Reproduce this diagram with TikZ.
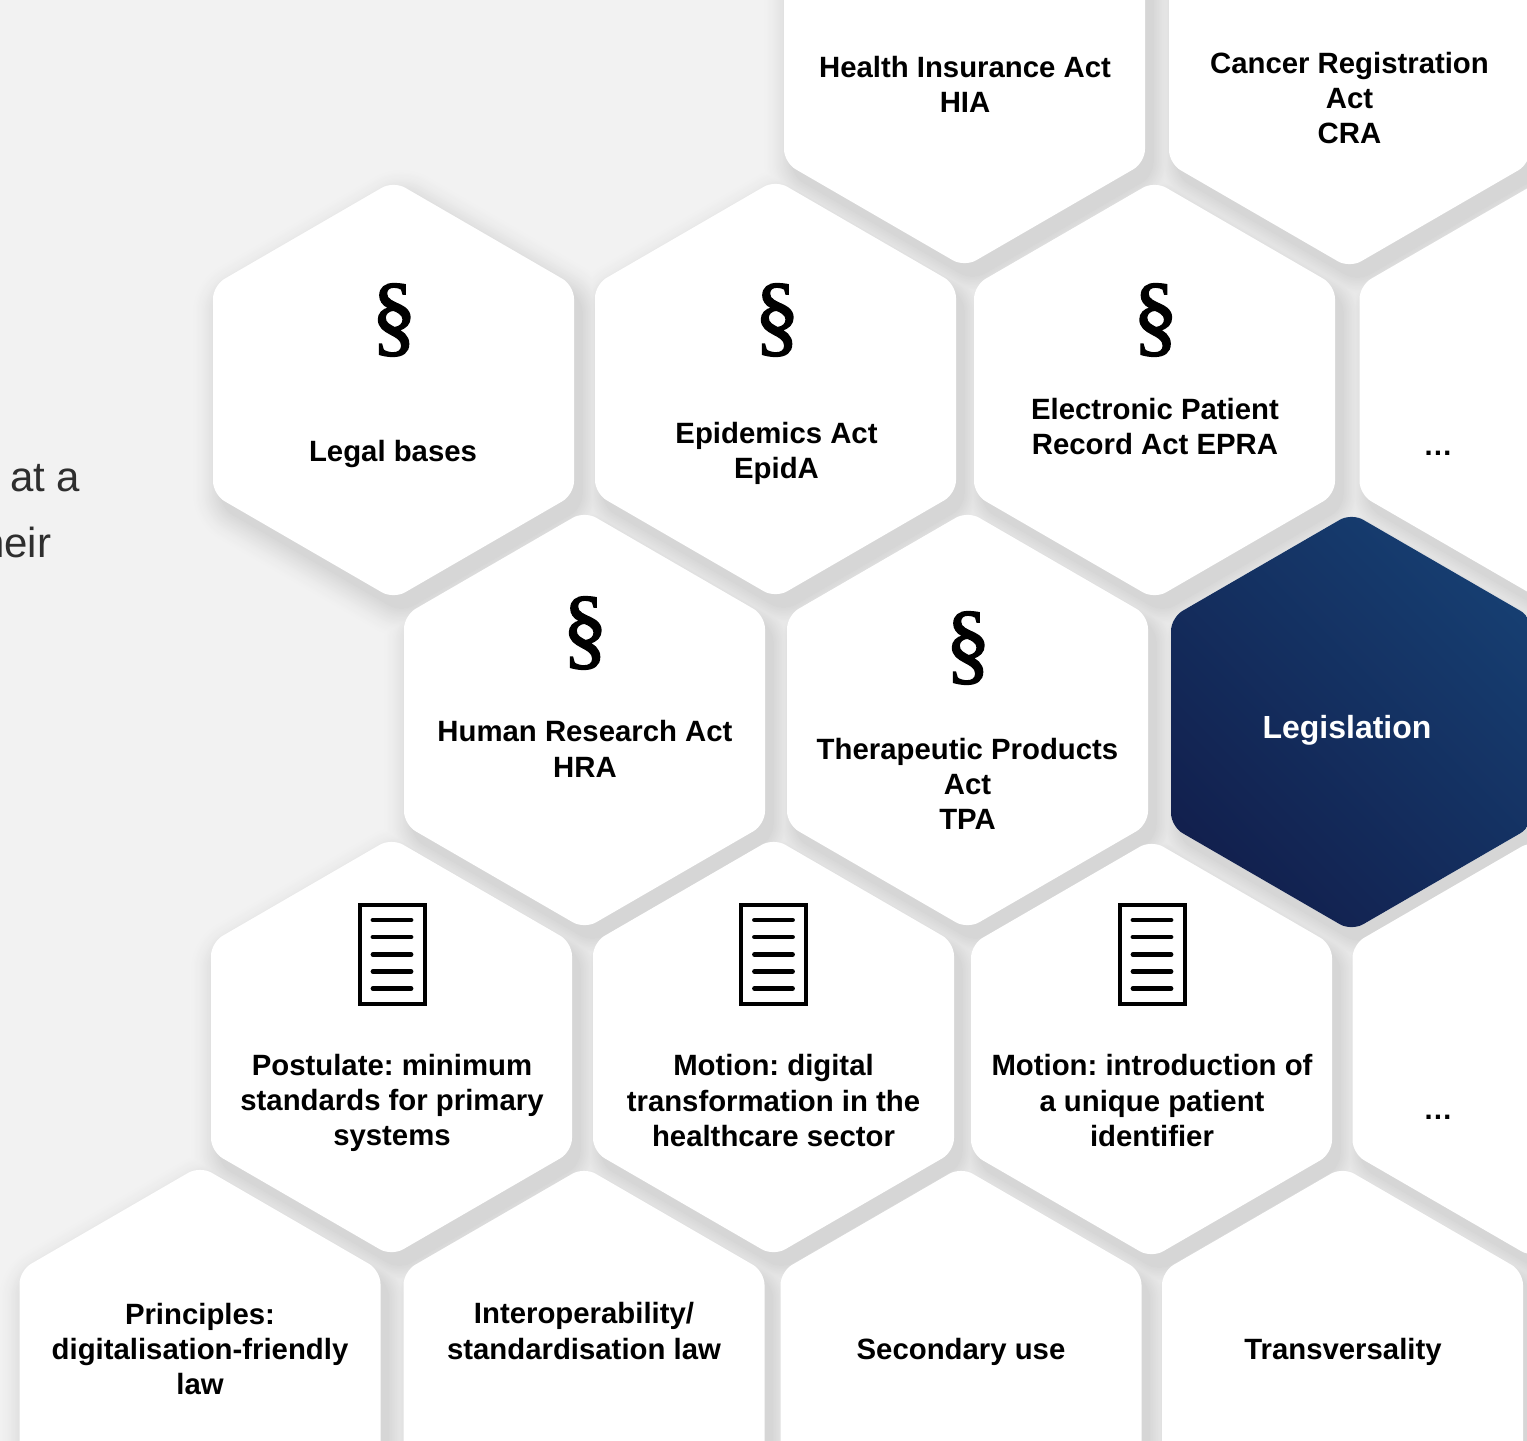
\documentclass[tikz,border=0pt]{standalone}
\usepackage{fontspec}
\setmainfont{Liberation Sans}
\newfontfamily\serifsym{Liberation Serif}[FakeBold=1.6]
\definecolor{pagebg}{HTML}{F2F2F2}
\definecolor{shadowc}{HTML}{D6D6D6}
\definecolor{navyA}{HTML}{12204E}
\definecolor{navyB}{HTML}{163E71}
\definecolor{ink}{HTML}{000000}
\definecolor{sidetext}{HTML}{2E2E2E}
\newcommand\hexpath[2]{({#1-180.5},{#2}) -- ({#1-180.5},{#2-104.5}) -- ({#1},{#2-209}) -- ({#1+180.5},{#2-104.5}) -- ({#1+180.5},{#2+104.5}) -- ({#1},{#2+209}) -- ({#1-180.5},{#2+104.5}) -- cycle}
\newcommand\hexlist{393.5/390,775.5/389,1154.5/390,1540/390,964.5/58,1349.5/59,584.5/720,967.5/720,1351.5/722,391.5/1047,773.5/1047,1151.5/1049,1533/1049,200/1375,584/1376,961/1376,1342.5/1376}
\tikzset{
  hexfill/.style={fill=white,rounded corners=10pt},
  label/.style={font=\fontsize{22}{26.5}\selectfont\bfseries,align=center,text=ink,inner sep=0pt},
  biglabel/.style={font=\fontsize{24}{28}\selectfont\bfseries,align=center,text=white,inner sep=0pt},
  parasign/.style={font=\fontsize{68}{68}\serifsym,text=ink,inner sep=0pt},
  sideline/.style={font=\fontsize{31.5}{36}\selectfont,text=sidetext,inner sep=0pt,anchor=base east},
  docframe/.style={draw=ink,line width=3pt,fill=white},
  docline/.style={draw=ink,line width=3.6pt,line cap=round},
}
\newcommand\paper[2]{% name, cx
  \coordinate (#1tl) at ({#2-32.5},904.5);
  \coordinate (#1br) at ({#2+32.5},1004);
  \draw[docframe] (#1tl) rectangle (#1br);
  \foreach \ly in {920,937,954.5,971.5,988.5}{\draw[docline] ({#2-19},\ly) -- ({#2+19},\ly);}
}
\frenchspacing
\begin{document}
\begin{tikzpicture}[x=0.75pt,y=-0.75pt]
\useasboundingbox (0,0) rectangle (1527,1440);
\clip (0,0) rectangle (1527,1440);
\fill[pagebg] (0,0) rectangle (1527,1440);
% layered soft shadow
\foreach \i in {0,...,23}{
  \pgfmathsetmacro\tt{(\i+1)/24}
  \pgfmathsetmacro\pc{100*\tt^1.5}
  \pgfmathsetmacro\lw{(1-\tt)*2*30*0.75}
  \foreach \c/\d in \hexlist {
    \filldraw[shadowc!\pc!pagebg,line width=\lw pt,line join=round,rounded corners=10pt,shift={(8,13)}] \hexpath{\c}{\d};
  }
}
% hexagons
\foreach \c/\d in \hexlist {
  \fill[hexfill] \hexpath{\c}{\d};
}
\path[rounded corners=10pt,bottom color=navyA,top color=navyB,shading angle=-45] \hexpath{1351.5}{722};
% side text
\node[sideline] (sidea) at (80.5,491.5) {at a};
\node[sideline] (sideb) at (51.5,557.5) {heir};
% top row
\node[label] (hia) at (965,84.5) {Health Insurance Act\\HIA};
\node[label] (cra) at (1349.5,98) {Cancer Registration\\Act\\CRA};
% second row
\node[parasign] (p1) at (394,320) {§};
\node[parasign] (p2) at (777,320) {§};
\node[parasign] (p3) at (1155.5,320) {§};
\node[label] (legal) at (393,454) {Legal bases};
\node[label] (epi) at (776.5,453.5) {Epidemics Act\\EpidA};
\node[label] (epra) at (1155,426.5) {Electronic Patient\\Record Act EPRA};
\node[label] (dots1) at (1438,453) {…};
% third row
\node[parasign] (p4) at (585,633) {§};
\node[parasign] (p5) at (968,648) {§};
\node[label] (hra) at (585,749) {Human Research Act\\HRA};
\node[label] (tpa) at (967.5,784) {Therapeutic Products\\Act\\TPA};
\node[biglabel] (legis) at (1347,730) {Legislation};
% fourth row
\paper{d1}{392}
\paper{d2}{773.5}
\paper{d3}{1152}
\node[label] (post) at (392,1103) {Postulate: minimum\\standards for primary\\systems};
\node[label] (mot1) at (773.5,1100.5) {Motion: digital\\transformation in the\\healthcare sector};
\node[label] (mot2) at (1152,1100.5) {Motion: introduction of\\a unique patient\\identifier};
\node[label] (dots2) at (1438,1117) {…};
% fifth row
\node[label] (prin) at (200,1349) {Principles:\\digitalisation-friendly\\law};
\node[label] (inter) at (584,1331) {Interoperability/\\standardisation law};
\node[label] (sec) at (961,1352) {Secondary use};
\node[label] (trans) at (1343,1352) {Transversality};
\end{tikzpicture}
\end{document}
